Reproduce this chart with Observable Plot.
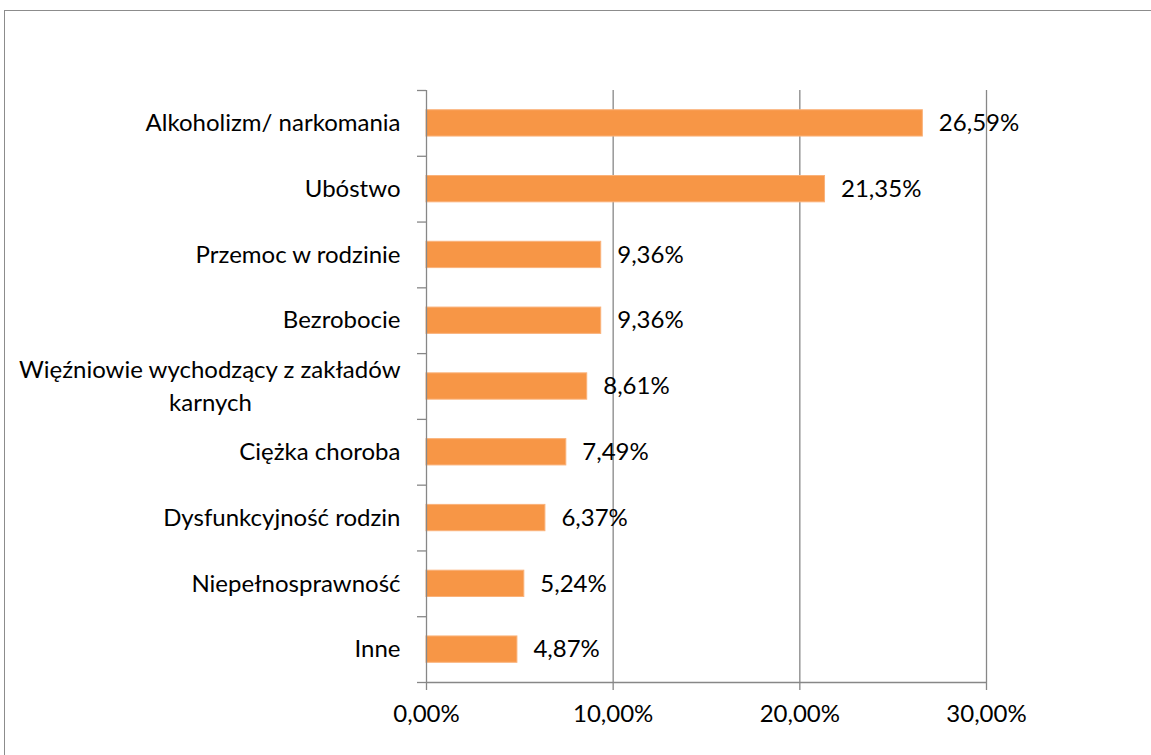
<!DOCTYPE html>
<html>
<head>
<meta charset="utf-8">
<script src="https://cdn.jsdelivr.net/npm/d3@7"></script>
<script src="https://cdn.jsdelivr.net/npm/@observablehq/plot@0.6"></script>
<style>
  html, body { margin: 0; padding: 0; background: #fff; overflow: hidden; }
  #wrap { position: relative; width: 1151px; height: 755px; }
  #frame { position: absolute; left: 4px; top: 10px; width: 1200px; height: 800px; border: 1.5px solid #8c8c8c; box-sizing: border-box; pointer-events: none; }
  #chart { position: absolute; left: 0; top: 0; }
</style>
</head>
<body>
<div id="wrap"><div id="frame"></div><div id="chart"></div></div>
<script>
const categories = [
  "Alkoholizm/ narkomania",
  "Ubóstwo",
  "Przemoc w rodzinie",
  "Bezrobocie",
  "Więźniowie wychodzący z zakładów\nkarnych",
  "Ciężka choroba",
  "Dysfunkcyjność rodzin",
  "Niepełnosprawność",
  "Inne"
];
const values = [26.59, 21.35, 9.36, 9.36, 8.61, 7.49, 6.37, 5.24, 4.87];
const xTicks = [0, 10, 20, 30];

const data = categories.map((c, i) => ({cat: c, i, v: values[i]}));
const fmt = d => d.toFixed(2).replace(".", ",") + "%";
const FONT = "Lato, 'Open Sans', sans-serif";
const FS = 24;

const singleLabels = data.filter(d => !d.cat.includes("\n"));
const multi = data.filter(d => d.cat.includes("\n"));

const plot = Plot.plot({
  width: 1151,
  height: 755,
  marginLeft: 426,
  marginRight: 165,
  marginTop: 90,
  marginBottom: 73,
  style: {fontFamily: FONT, fontSize: FS + "px", color: "#000", background: "transparent"},
  x: {domain: [0, 30]},
  y: {domain: [0, categories.length], reverse: true},
  marks: [
    Plot.gridX(xTicks.slice(1), {stroke: "#878787", strokeOpacity: 1, strokeWidth: 1.3}),
    Plot.rectX(data, {
      y1: d => d.i + 0.3, y2: d => d.i + 0.7, x1: 0, x2: "v",
      fill: "#F79646", stroke: "#FAB27A", strokeWidth: 1
    }),
    Plot.ruleX([0], {stroke: "#878787", strokeWidth: 1.3}),
    Plot.ruleY([categories.length], {x1: 0, x2: 30, stroke: "#878787", strokeWidth: 1.3}),
    Plot.axisY({ticks: d3.range(categories.length + 1), tickSize: 9, tickFormat: () => "", stroke: "#878787", strokeWidth: 1.3, label: null}),
    Plot.axisX({ticks: xTicks, tickSize: 8, tickPadding: 14, tickFormat: fmt, stroke: "#878787", strokeWidth: 1.3, fill: "#000", fontSize: FS, label: null}),
    Plot.text(data, {
      x: "v", y: d => d.i + 0.5, text: d => fmt(d.v),
      textAnchor: "start", dx: 16, fill: "#000", fontSize: FS
    }),
    Plot.text(singleLabels, {
      x: 0, y: d => d.i + 0.5, text: "cat",
      textAnchor: "end", dx: -26, fill: "#000", fontSize: FS
    }),
    Plot.text(multi, {
      x: 0, y: d => d.i + 0.5, text: d => d.cat.split("\n")[0],
      textAnchor: "end", dx: -26, dy: -16, fill: "#000", fontSize: FS
    }),
    Plot.text(multi, {
      x: 0, y: d => d.i + 0.5, text: d => d.cat.split("\n")[1],
      textAnchor: "middle", dx: -216, dy: 17, fill: "#000", fontSize: FS
    })
  ]
});
document.getElementById("chart").appendChild(plot);
</script>
</body>
</html>
